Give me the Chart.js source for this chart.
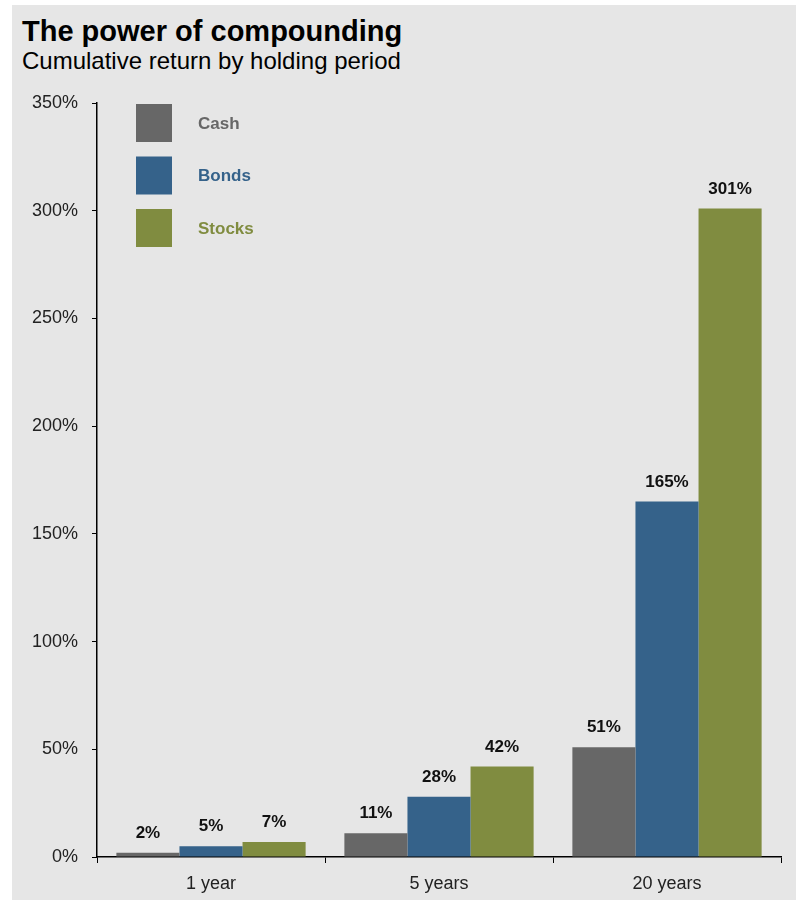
<!DOCTYPE html>
<html>
<head>
<meta charset="utf-8">
<script src="https://cdn.jsdelivr.net/npm/chart.js@4"></script>
<style>
    html, body { margin: 0; padding: 0; background: #ffffff; }
    #panel {
        position: absolute; left: 12px; top: 5px; width: 784px; height: 895px;
        background: #e6e6e6;
    }
    .title {
        position: absolute; left: 22px; top: 17px; margin: 0;
        font-family: "Liberation Sans", Arial, sans-serif;
        font-size: 29px; font-weight: bold; line-height: 1; color: #000;
    }
    .subtitle {
        position: absolute; left: 22px; top: 49px; margin: 0;
        font-family: "Liberation Sans", Arial, sans-serif;
        font-size: 24px; line-height: 1; color: #000;
    }
    #wrap { position: absolute; left: 0; top: 0; width: 796px; height: 903px; }
</style>
</head>
<body>
<div id="panel"></div>
<div class="title">The power of compounding</div>
<div class="subtitle">Cumulative return by holding period</div>
<div id="wrap"><canvas id="chart"></canvas></div>
<script>
const periods = ['1 year', '5 years', '20 years'];
const cash = [2, 11, 51];
const bonds = [5, 28, 165];
const stocks = [7, 42, 301];
const yTicks = [0, 50, 100, 150, 200, 250, 300, 350];

const colors = { cash: '#676767', bonds: '#35628a', stocks: '#808c40' };

// etiquetas em cima das barras
const barLabels = {
    id: 'barLabels',
    afterDatasetsDraw(chart) {
        const c = chart.ctx;
        c.save();
        c.font = 'bold 17px "Liberation Sans", Arial, sans-serif';
        c.fillStyle = '#111';
        c.textAlign = 'center';
        c.textBaseline = 'alphabetic';
        chart.data.datasets.forEach((ds, i) => {
            chart.getDatasetMeta(i).data.forEach((bar, j) => {
                c.fillText(ds.data[j] + '%', bar.x, bar.y - 15);
            });
        });
        c.restore();
    }
};

// legenda dentro da área do gráfico
const innerLegend = {
    id: 'innerLegend',
    afterDraw(chart) {
        const c = chart.ctx;
        const a = chart.chartArea;
        c.save();
        c.font = 'bold 17px "Liberation Sans", Arial, sans-serif';
        c.textBaseline = 'middle';
        chart.data.datasets.forEach((ds, i) => {
            const y = a.top + i * 52.5;
            c.fillStyle = ds.backgroundColor;
            c.fillRect(a.left + 39, y + 1, 36, 38);
            c.fillText(ds.label, a.left + 101, y + 21);
        });
        c.restore();
    }
};

new Chart(document.getElementById('chart'), {
    type: 'bar',
    data: {
        labels: periods,
        datasets: [
            { label: 'Cash', data: cash, backgroundColor: colors.cash },
            { label: 'Bonds', data: bonds, backgroundColor: colors.bonds },
            { label: 'Stocks', data: stocks, backgroundColor: colors.stocks }
        ]
    },
    options: {
        responsive: true,
        maintainAspectRatio: false,
        animation: false,
        layout: { padding: { left: 12, right: 15, top: 103, bottom: 0 } },
        datasets: { bar: { categoryPercentage: 0.83, barPercentage: 1.0 } },
        plugins: {
            legend: { display: false },
            tooltip: { enabled: false }
        },
        scales: {
            x: {
                grid: { display: true, drawOnChartArea: false, drawTicks: true, tickLength: 6, color: '#000', offset: true },
                border: { display: true, color: '#000', width: 1.5 },
                ticks: { color: '#222', padding: 10, font: { family: '"Liberation Sans", Arial, sans-serif', size: 18 } },
                afterFit(scale) { scale.height = 46; }
            },
            y: {
                min: 0,
                max: 350,
                afterBuildTicks(scale) { scale.ticks = yTicks.map(v => ({ value: v })); },
                grid: { display: true, drawOnChartArea: false, drawTicks: true, tickLength: 5, color: '#000' },
                border: { display: true, color: '#000', width: 1.5 },
                ticks: {
                    color: '#222', padding: 14,
                    font: { family: '"Liberation Sans", Arial, sans-serif', size: 18 },
                    callback: v => v + '%'
                },
                afterFit(scale) { scale.width = 85; }
            }
        }
    },
    plugins: [barLabels, innerLegend]
});
</script>
</body>
</html>
